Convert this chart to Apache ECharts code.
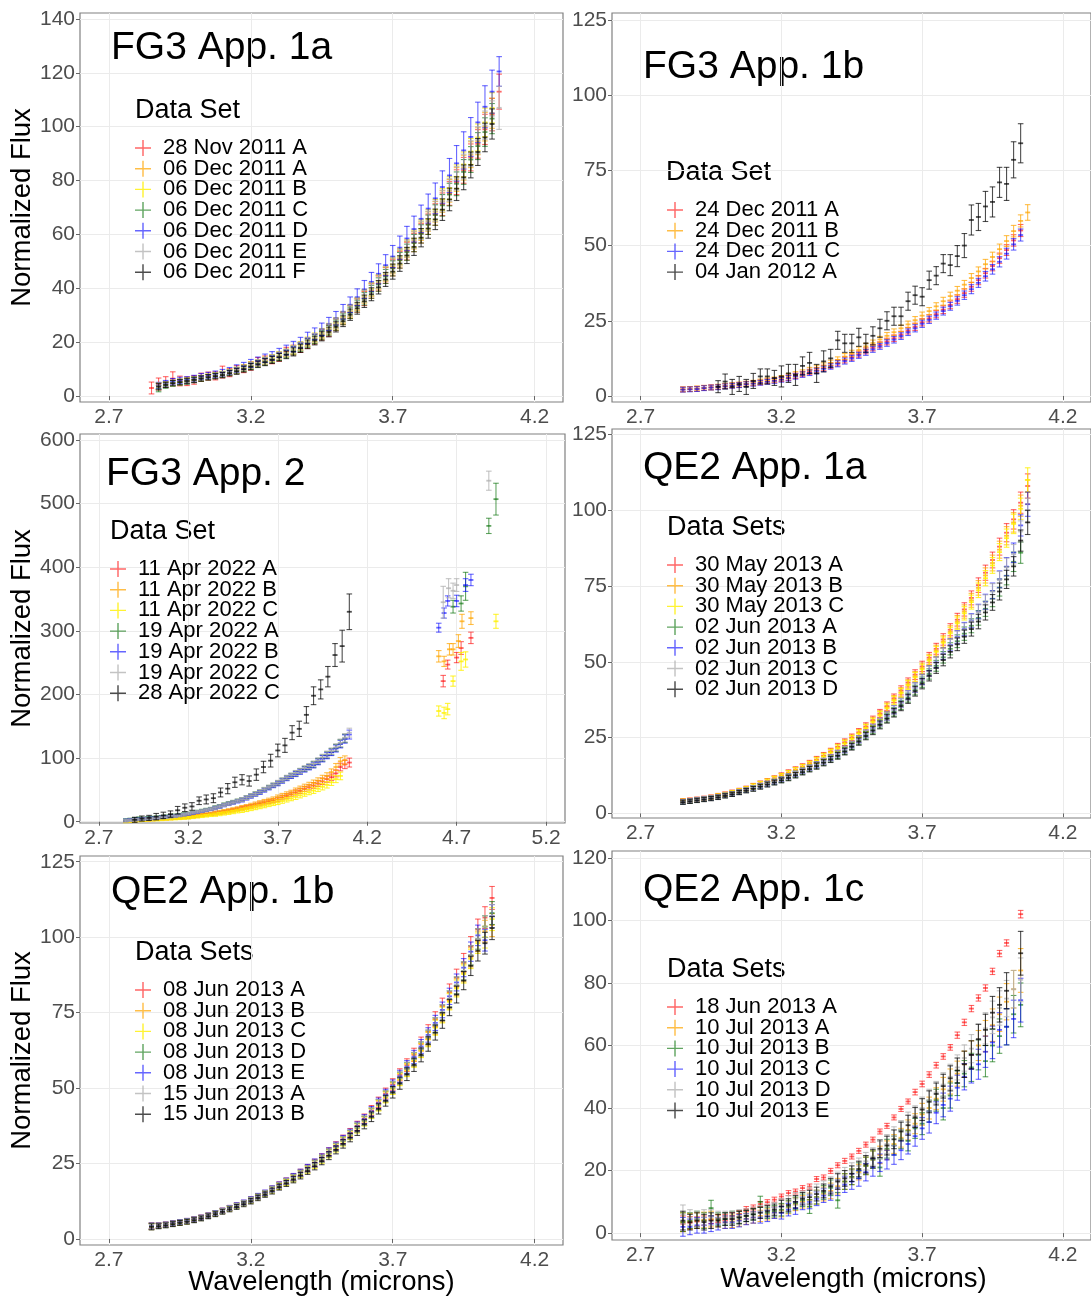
<!DOCTYPE html>
<html><head><meta charset="utf-8">
<script src="https://cdn.jsdelivr.net/npm/echarts@6/dist/echarts.min.js"></script>
<style>html,body{margin:0;padding:0;background:#fff}#c{width:1091px;height:1298px}</style>
</head><body><div id="c"></div>
<script>
// ---------- wavelength grids (microns) ----------
const W = [2.85,2.875,2.9,2.925,2.95,2.975,3.0,3.025,3.05,3.075,
 3.1,3.125,3.15,3.175,3.2,3.225,3.25,3.275,3.3,3.325,
 3.35,3.375,3.4,3.425,3.45,3.475,3.5,3.525,3.55,3.575,
 3.6,3.625,3.65,3.675,3.7,3.725,3.75,3.775,3.8,3.825,
 3.85,3.875,3.9,3.925,3.95,3.975,4.0,4.025,4.05,4.075,4.1];
const W_fg2_black = [2.90,2.94,2.98,3.02,3.06,3.10,3.14,3.18,3.22,3.26,3.30,3.34,3.38,3.42,3.46,3.50,3.54,3.58,3.62,3.66,3.70,3.74,3.78,3.82,3.86,3.90,3.94,3.98,4.02,4.06,4.10];

// ---------- FG3 App. 1a ----------
const fg1a_red = [3.0,4.5,5.2,6.5,5.6,5.5,6.0,7.0,7.4,7.5,8.9,8.7,9.8,10.2,11.2,12.7,13.3,13.6,14.6,16.4,17.1,18.0,19.6,21.2,22.8,24.3,26.5,28.8,31.2,33.6,36.2,39.0,41.8,44.8,47.6,50.6,53.8,57.0,60.4,63.8,67.4,71.2,75.2,79.4,83.8,88.6,93.6,99.0,104.5,113.0];
const fg1a_orange = [null,3.8,4.3,4.9,5.3,5.7,6.1,6.7,7.1,7.6,8.0,8.8,9.5,10.4,11.3,12.2,13.0,13.9,14.9,15.9,17.0,18.4,20.0,21.4,23.0,24.8,26.8,29.0,31.4,34.0,36.8,39.4,42.2,45.2,48.2,51.2,54.4,57.8,61.2,64.8,68.4,72.2,76.2,80.4,84.8,89.6,94.6,100.0,105.0];
const fg1a_yellow = [null,3.6,4.2,4.8,5.2,5.8,6.2,6.6,7.2,7.7,8.2,8.9,9.6,10.5,11.5,12.3,13.2,14.1,15.1,16.1,17.3,18.7,20.3,21.8,23.4,25.2,27.2,29.4,31.8,34.4,37.2,39.8,42.6,45.6,48.8,51.8,55.0,58.4,62.0,65.6,69.2,73.0,77.2,81.4,86.0,90.8,96.0,101.6,107.0];
const fg1a_green = [null,2.8,3.9,4.7,5.1,5.4,6.0,6.6,7.0,7.5,8.0,8.7,9.4,10.2,11.1,12.0,12.8,13.7,14.6,15.6,16.8,18.1,19.7,21.1,22.6,24.4,26.3,28.5,30.9,33.4,36.1,38.7,41.4,44.4,47.4,50.4,53.4,56.8,60.2,63.6,67.2,70.8,74.8,78.8,83.2,87.8,92.8,98.0,103.0];
const fg1a_blue = [null,3.9,4.6,5.3,5.8,6.0,6.5,7.2,7.6,8.1,8.6,9.3,10.2,11.1,12.1,13.0,14.0,14.9,16.0,17.1,18.4,19.8,21.6,23.1,24.8,26.8,28.9,31.3,33.9,36.7,39.6,42.4,45.4,48.6,51.8,55.1,58.5,62.0,65.8,69.6,73.4,77.6,81.9,86.4,91.2,96.2,101.6,107.4,113.0,120.5];
const fg1a_gray = [null,3.7,4.4,4.9,5.3,5.6,6.1,6.7,7.1,7.6,8.1,8.8,9.6,10.4,11.4,12.3,13.1,14.0,15.0,16.0,17.2,18.5,20.1,21.6,23.2,25.0,27.0,29.2,31.6,34.2,37.0,39.6,42.4,45.4,48.5,51.5,54.6,58.0,61.5,65.0,68.6,72.4,76.5,80.8,85.2,90.0,95.0,100.5,104.0,107.0];
const fg1a_black = [null,3.5,4.2,4.8,5.2,5.6,6.0,6.5,7.0,7.4,7.8,8.5,9.2,10.0,10.9,11.8,12.6,13.4,14.4,15.3,16.4,17.7,19.2,20.6,22.2,23.8,25.7,27.8,30.2,32.6,35.2,37.8,40.4,43.3,46.2,49.2,52.2,55.4,58.8,62.2,65.6,69.2,73.0,77.0,81.2,85.8,90.6,96.0,101.0];
const fg1a_err = [1.5,1.2,1.0,1.0,1.0,1.0,1.0,1.0,1.0,1.0,1.0,1.0,1.1,1.1,1.2,1.2,1.3,1.3,1.4,1.4,1.5,1.5,1.6,1.6,1.7,1.8,1.9,2.0,2.1,2.2,2.3,2.4,2.5,2.6,2.8,2.9,3.0,3.2,3.4,3.6,3.8,4.0,4.2,4.4,4.6,4.8,5.0,5.3,5.6,8.0];
const fg1a_errRed = [2.2,2.2,2.0,2.5,1.8,1.6,1.6,1.5,1.5,1.5,2.2,1.5,1.5,1.5,1.6,1.6,1.6,1.6,1.7,1.7,1.8,1.8,1.9,1.9,2.0,2.1,2.2,2.3,2.4,2.5,2.6,2.7,2.8,2.9,3.0,3.1,3.3,3.4,3.6,3.8,4.0,4.2,4.4,4.6,4.8,5.0,5.3,5.6,6.0,6.5];
const fg1a_errBlue = [1.5,1.2,1.2,1.2,1.2,1.2,1.2,1.2,1.2,1.2,1.3,1.3,1.4,1.4,1.5,1.5,1.6,1.6,1.7,1.8,1.9,2.0,2.1,2.2,2.3,2.4,2.5,2.7,2.9,3.1,3.3,3.5,3.7,3.9,4.1,4.3,4.5,4.8,5.1,5.4,5.7,6.0,6.3,6.6,6.9,7.2,7.5,7.8,8.0,5.5];

// ---------- FG3 App. 1b ----------
const fg1b_red = [2.2,2.3,2.4,2.7,2.9,3.0,3.3,3.5,3.7,4.0,4.2,4.5,4.9,5.2,5.6,6.1,6.7,7.3,8.0,8.6,9.3,10.1,11.0,12.0,12.9,13.9,15.0,16.0,17.0,18.1,19.2,20.4,21.7,23.0,24.5,25.8,27.2,28.7,30.3,32.2,34.2,36.3,38.5,40.8,43.2,45.8,48.5,51.7,55.0];
const fg1b_orange = [2.2,2.3,2.5,2.7,2.8,3.1,3.4,3.6,3.8,4.1,4.4,4.8,5.2,5.5,6.0,6.6,7.2,7.8,8.6,9.3,10.1,11.0,12.0,13.1,14.2,15.3,16.5,17.6,18.8,20.0,21.2,22.5,23.8,25.2,26.7,28.2,29.8,31.5,33.2,35.0,37.0,39.2,41.4,43.8,46.2,48.8,51.5,54.8,58.2,61.0];
const fg1b_blue = [2.1,2.2,2.3,2.6,2.8,2.9,3.2,3.4,3.6,3.9,4.1,4.4,4.7,5.0,5.4,5.9,6.5,7.1,7.7,8.3,9.0,9.8,10.7,11.6,12.5,13.5,14.5,15.5,16.5,17.6,18.7,19.9,21.2,22.5,24.0,25.3,26.7,28.2,29.8,31.6,33.5,35.5,37.6,39.8,42.1,44.6,47.3,50.4,53.5];
const fg1b_black = [null,null,null,null,null,3.1,4.8,3.0,4.0,3.0,5.0,6.5,6.5,6.0,6.5,7.5,7.0,10.0,11.0,7.5,11.5,12.5,18.5,17.5,17.5,19.5,17.5,20.0,22.5,25.0,26.5,26.5,31.5,33.5,33.0,38.5,40.0,44.0,43.5,46.5,50.0,58.5,59.5,63.0,64.5,71.0,70.5,78.5,84.0];
const fg1b_err = [0.8,0.8,0.8,0.8,0.8,0.8,0.8,0.8,0.8,0.8,0.8,0.8,0.8,0.8,0.8,0.9,0.9,0.9,0.9,0.9,0.9,0.9,1.0,1.0,1.0,1.0,1.0,1.0,1.0,1.1,1.1,1.1,1.1,1.2,1.2,1.2,1.2,1.3,1.3,1.4,1.4,1.5,1.5,1.6,1.6,1.7,1.8,1.9,2.0,2.6];
const fg1b_errBlack = [2.0,2.0,2.0,2.0,2.0,2.0,2.5,2.5,2.5,2.5,2.5,2.5,2.5,2.5,3.5,3.0,3.5,3.0,3.5,3.0,3.5,3.0,3.0,3.0,3.0,3.0,3.0,3.0,3.0,3.0,3.0,3.0,3.0,3.0,3.0,3.0,3.0,3.0,3.5,3.5,4.0,5.0,4.5,5.0,5.0,5.0,5.5,6.0,6.5];

// ---------- FG3 App. 2 ----------
const fg2_red = [1.0,1.5,2.0,2.5,3.0,3.3,3.6,4.0,4.4,4.8,5.2,5.6,6.0,6.5,7.0,8.0,9.0,10.0,11.0,12.0,13.0,14.0,15.0,16.5,18.0,19.5,21.0,22.5,24.0,26.0,28.0,29.5,31.5,33.0,35.0,38.0,40.5,43.0,46.0,48.5,51.5,54.0,57.0,60.0,63.5,67.0,70.0,76.0,86.0,90.0,93.0];
const fg2_orange = [1.5,2.0,2.5,3.0,3.5,3.8,4.2,4.6,5.0,5.4,5.8,6.3,6.8,7.4,8.0,9.0,10.0,11.0,12.0,13.0,14.2,15.4,16.6,18.0,19.5,21.0,22.5,24.0,26.0,28.0,30.0,32.0,34.0,36.0,38.5,41.0,43.5,46.0,49.0,52.0,55.0,58.0,61.0,64.5,68.0,72.0,78.0,86.0,95.0,97.0];
const fg2_yellow = [0.5,1.0,1.5,2.0,2.5,2.8,3.1,3.4,3.8,4.2,4.6,5.0,5.4,5.8,6.2,7.0,7.8,8.6,9.4,10.2,11.0,12.0,13.0,14.0,15.2,16.4,17.6,19.0,20.5,22.0,23.5,25.0,26.8,28.5,30.5,32.5,34.5,36.5,39.0,41.5,44.0,46.5,49.0,52.0,55.0,58.0,62.0,67.0,72.0];
const fg2_green = [2.5,3.5,4.5,5.5,5.0,6.0,6.5,7.0,7.5,8.5,9.0,10.0,11.0,12.0,13.0,14.5,16.0,17.5,19.0,20.5,22.5,24.5,27.0,29.0,31.0,33.0,35.0,38.0,41.0,44.0,47.0,50.5,54.0,57.5,61.0,65.0,69.0,72.5,76.0,79.5,83.0,86.5,90.0,95.0,100.0,105.0,110.0,116.0,123.0,131.0];
const fg2_blue = [2.0,3.0,3.5,4.0,4.5,5.0,5.5,6.0,7.0,7.5,8.5,9.0,10.0,11.0,12.0,13.5,15.0,16.5,18.0,19.5,21.5,23.5,26.0,28.0,30.0,32.0,34.0,37.0,40.0,43.0,46.0,49.5,53.0,56.5,60.0,64.0,68.0,71.5,75.0,78.5,82.0,85.5,89.0,94.0,99.0,104.0,109.0,115.0,122.0,130.0,137.0];
const fg2_gray = [1.5,2.5,3.0,3.5,4.0,4.5,5.0,6.0,6.5,7.0,8.0,9.0,10.0,11.0,12.5,14.0,15.5,17.0,18.5,20.0,22.0,24.0,26.5,28.5,30.5,33.0,35.0,38.0,41.0,44.0,47.5,51.0,54.5,58.0,61.5,65.5,69.5,73.0,76.5,80.0,84.0,87.5,91.0,96.0,101.0,106.0,111.0,117.0,124.0,132.0,140.0];
const fg2_black = [3,5,6,8,10,12,18,22,24,33,35,37,46,52,62,66,64,74,86,96,112,120,140,146,168,198,208,228,262,276,330];
const fg2_err = [2,2,2,2,2,2,2,2,2,2,2,2,2,2,2,2,2,2,2,2,2.5,2.5,2.5,2.5,2.5,2.5,3,3,3,3,3,3,3,3,3.5,3.5,3.5,3.5,4,4,4,4,4.5,4.5,5,5,5,5.5,6,6.5,7];
const fg2_errBlack = [4,4,4,5,5,5,6,6,6,6,7,7,7,8,8,8,8,9,9,10,10,11,11,12,13,14,15,16,18,25,28];
// long-wavelength points (4.6 - 4.9 microns)
const fg2x_red_w = [4.625,4.65,4.70,4.725,4.78];
const fg2x_red_v = [221,247,258,273,289];
const fg2x_red_e = [9,7,8,10,9];
const fg2x_orange_w = [4.60,4.63,4.66,4.68,4.71,4.73,4.78];
const fg2x_orange_v = [260,252,271,271,284,315,320];
const fg2x_orange_e = [9,8,9,9,10,11,10];
const fg2x_yellow_w = [4.60,4.63,4.65,4.68,4.725,4.75,4.92];
const fg2x_yellow_v = [174,171,177,221,252,255,315];
const fg2x_yellow_e = [8,9,9,8,14,12,11];
const fg2x_green_w = [4.68,4.725,4.75,4.88,4.92];
const fg2x_green_v = [338,343,370,465,507];
const fg2x_green_e = [10,12,22,12,25];
const fg2x_blue_w = [4.60,4.63,4.65,4.70,4.75,4.78];
const fg2x_blue_v = [305,328,347,347,372,380];
const fg2x_blue_e = [7,8,8,9,10,9];
const fg2x_gray_w = [4.625,4.655,4.68,4.70,4.88];
const fg2x_gray_v = [345,367,363,372,536];
const fg2x_gray_e = [25,15,12,10,15];

// ---------- QE2 App. 1a ----------
const qe1a_red = [4.2,4.4,4.7,5.0,5.4,5.9,6.4,7.0,7.6,8.3,9.1,9.9,10.7,11.6,12.6,13.5,14.5,15.5,16.6,17.8,19.1,20.5,22.0,23.5,25.1,26.8,28.7,30.8,33.0,35.4,38.0,40.6,43.2,45.8,48.5,51.4,54.3,57.4,60.6,63.9,67.3,71.1,75.3,79.4,83.6,88.0,92.6,97.0,102.5,108.0];
const qe1a_orange = [4.1,4.3,4.6,4.9,5.3,5.8,6.3,6.9,7.5,8.2,9.0,9.8,10.6,11.5,12.4,13.3,14.3,15.3,16.4,17.6,18.9,20.3,21.7,23.2,24.8,26.5,28.3,30.4,32.6,35.0,37.5,40.0,42.6,45.2,47.9,50.8,53.7,56.7,59.9,63.2,66.6,70.3,74.4,78.5,82.6,87.0,91.6,96.0,101.5,106.0];
const qe1a_yellow = [4.0,4.2,4.5,4.8,5.2,5.7,6.2,6.8,7.4,8.1,8.9,9.7,10.5,11.4,12.3,13.2,14.2,15.2,16.2,17.4,18.7,20.1,21.5,23.0,24.6,26.3,28.1,30.1,32.3,34.7,37.2,39.7,42.3,44.9,47.5,50.4,53.3,56.3,59.4,62.7,66.0,69.7,73.6,77.6,81.8,86.2,90.8,95.5,100.5,110.0];
const qe1a_green = [3.8,4.1,4.4,4.7,5.0,5.4,5.9,6.4,7.0,7.6,8.3,9.0,9.7,10.3,11.0,11.9,12.8,13.8,14.8,15.8,16.9,18.0,19.2,20.6,22.2,24.0,25.8,27.6,29.5,31.5,33.5,35.8,38.2,40.7,43.3,46.0,48.7,51.5,54.3,56.8,59.3,61.9,64.5,67.5,70.8,74.5,78.4,83.0,86.0];
const qe1a_blue = [3.9,4.2,4.5,4.8,5.1,5.5,6.0,6.5,7.1,7.7,8.4,9.1,9.8,10.5,11.3,12.2,13.1,14.1,15.1,16.1,17.2,18.4,19.7,21.1,22.7,24.5,26.3,28.1,30.1,32.1,34.2,36.5,39.0,41.5,44.2,47.0,49.8,52.7,55.6,58.2,60.8,63.6,66.6,69.8,73.4,77.2,81.4,86.0,95.0,102.0];
const qe1a_gray = [3.9,4.2,4.5,4.8,5.1,5.5,6.0,6.5,7.1,7.7,8.4,9.1,9.8,10.5,11.2,12.1,13.0,14.0,15.0,16.0,17.1,18.3,19.6,21.0,22.6,24.4,26.2,28.0,30.0,32.0,34.1,36.4,38.9,41.4,44.0,46.8,49.6,52.5,55.4,58.0,60.6,63.4,66.4,69.6,73.2,77.0,81.2,85.5,93.0,100.0];
const qe1a_black = [3.7,4.0,4.3,4.6,4.9,5.3,5.8,6.3,6.9,7.5,8.1,8.8,9.5,10.2,10.9,11.7,12.6,13.6,14.6,15.6,16.7,17.8,19.0,20.4,22.0,23.7,25.5,27.3,29.2,31.2,33.2,35.4,37.8,40.3,42.8,45.4,48.0,50.6,53.3,55.8,58.3,60.8,63.3,66.3,69.6,73.2,77.2,81.5,90.0,96.0];
const qe1a_err = [0.7,0.7,0.7,0.7,0.7,0.7,0.7,0.7,0.7,0.7,0.8,0.8,0.8,0.8,0.8,0.9,0.9,0.9,0.9,1.0,1.0,1.0,1.1,1.1,1.1,1.2,1.2,1.3,1.3,1.4,1.4,1.5,1.5,1.6,1.7,1.7,1.8,1.9,2.0,2.1,2.2,2.3,2.4,2.5,2.6,2.8,3.0,3.2,3.5,4.0];

// ---------- QE2 App. 1b ----------
const qe1b_red = [4.3,4.5,4.8,5.2,5.6,6.0,6.5,7.1,7.8,8.6,9.4,10.3,11.1,12.0,13.0,14.1,15.2,16.5,17.9,19.2,20.5,22.0,23.5,25.2,27.0,28.9,30.9,33.0,35.2,37.5,39.9,42.6,45.3,48.2,51.2,54.4,57.6,61.0,64.6,68.6,72.8,77.2,81.8,86.6,91.6,97.0,102.6,106.5,113.0];
const qe1b_orange = [4.2,4.4,4.7,5.1,5.5,5.9,6.4,7.0,7.7,8.5,9.3,10.2,11.0,11.9,12.9,14.0,15.1,16.4,17.6,18.9,20.2,21.6,23.1,24.8,26.5,28.4,30.3,32.4,34.5,36.8,39.1,41.7,44.3,47.1,50.0,53.0,56.1,59.3,62.6,66.4,70.3,74.5,78.9,83.4,88.2,93.3,98.6,102.0,104.0];
const qe1b_yellow = [4.1,4.3,4.6,5.0,5.4,5.8,6.3,6.9,7.6,8.4,9.2,10.1,10.9,11.8,12.8,13.9,15.0,16.2,17.4,18.7,20.0,21.4,22.9,24.6,26.3,28.2,30.1,32.2,34.3,36.6,38.9,41.5,44.1,46.9,49.8,52.8,55.9,59.1,62.4,66.1,70.0,74.2,78.6,83.0,87.8,92.8,98.0,100.0,106.0];
const qe1b_green = [4.2,4.4,4.7,5.1,5.5,5.9,6.4,7.0,7.7,8.5,9.3,10.2,11.0,11.9,12.9,14.0,15.1,16.4,17.7,19.0,20.3,21.7,23.2,24.9,26.6,28.5,30.4,32.5,34.6,36.9,39.2,41.8,44.5,47.3,50.2,53.3,56.4,59.6,63.0,66.8,70.8,75.0,79.5,84.0,88.8,94.0,99.4,103.5,108.0];
const qe1b_blue = [4.3,4.5,4.8,5.2,5.6,6.0,6.5,7.1,7.8,8.6,9.4,10.3,11.2,12.1,13.1,14.2,15.3,16.6,17.9,19.2,20.6,22.0,23.6,25.3,27.0,28.9,30.8,32.9,35.0,37.3,39.7,42.3,45.0,47.8,50.8,53.9,57.0,60.3,63.8,67.6,71.6,75.9,80.4,85.0,89.9,95.2,100.6,99.0,107.0];
const qe1b_gray = [4.2,4.4,4.7,5.1,5.5,5.9,6.4,7.0,7.7,8.5,9.3,10.2,11.0,11.9,12.9,14.0,15.1,16.4,17.7,19.0,20.3,21.7,23.2,24.9,26.6,28.5,30.4,32.5,34.6,36.9,39.2,41.8,44.5,47.3,50.2,53.3,56.4,59.6,63.0,66.8,70.8,75.0,79.5,84.0,88.8,94.0,99.4,103.5,107.0];
const qe1b_black = [4.0,4.2,4.5,4.9,5.3,5.7,6.2,6.8,7.5,8.2,9.0,9.8,10.6,11.5,12.5,13.6,14.7,15.9,17.2,18.4,19.7,21.0,22.5,24.1,25.8,27.6,29.5,31.5,33.6,35.8,38.0,40.5,43.1,45.8,48.6,51.6,54.6,57.7,61.0,64.6,68.4,72.4,76.7,81.0,85.6,90.5,95.5,98.0,103.0];
const qe1b_err = [1.0,0.8,0.8,0.8,0.8,0.8,0.8,0.8,0.8,0.8,0.8,0.8,0.8,0.8,0.9,0.9,0.9,1.0,1.0,1.0,1.1,1.1,1.1,1.2,1.2,1.3,1.3,1.4,1.4,1.5,1.5,1.6,1.7,1.8,1.9,2.0,2.1,2.2,2.3,2.4,2.5,2.6,2.7,2.8,3.0,3.2,3.4,3.6,3.8];

// ---------- QE2 App. 1c ----------
const qe1c_red = [3.0,3.3,3.7,4.0,4.3,4.6,5.0,5.5,6.2,7.7,8.2,9.3,9.9,10.7,11.7,12.8,13.3,14.4,14.9,17.3,17.8,19.9,21.7,23.1,24.5,26.3,28.3,29.9,32.5,34.3,37.0,39.7,42.1,45.1,47.7,50.7,53.7,56.5,59.4,63.3,67.4,71.8,75.2,78.4,83.7,89.4,92.8,null,102.0];
const qe1c_orange = [3.5,3.8,4.0,4.2,4.5,4.0,3.5,3.8,4.2,4.6,5.0,5.5,6.0,6.6,7.2,8.2,9.2,10.0,10.6,11.5,12.5,13.5,15.0,16.5,18.0,19.5,21.5,23.5,25.0,26.5,28.5,30.5,33.0,35.0,38.0,40.0,43.0,46.0,48.5,51.0,54.0,57.0,60.0,63.0,66.5,70.0,74.0,78.0,84.0];
const qe1c_green = [3.5,4.0,4.5,4.0,8.0,4.5,4.5,5.0,5.0,5.5,6.0,10.0,6.5,7.0,7.5,8.5,9.5,10.5,8.5,11.5,13.0,14.5,10.5,16.5,18.0,20.0,21.5,23.5,21.0,27.0,28.0,30.0,29.5,33.5,35.0,39.0,42.5,40.0,44.0,48.0,51.0,53.0,57.0,55.0,60.0,63.0,66.0,70.0,73.0];
const qe1c_blue = [2.0,2.0,2.5,2.5,3.0,3.0,3.5,3.5,4.0,4.5,5.0,5.0,5.5,6.5,6.5,7.5,8.0,9.5,10.0,11.0,12.0,13.0,14.5,15.5,16.5,17.5,19.5,21.0,22.5,23.5,25.0,26.5,28.5,31.0,33.5,35.5,38.5,41.0,43.0,46.5,50.0,52.5,54.0,58.0,61.0,65.0,66.0,68.5,74.5];
const qe1c_gray = [6.0,5.0,4.5,5.0,5.0,5.0,5.0,5.0,5.5,6.0,6.5,7.0,7.5,8.0,9.0,10.0,11.0,11.5,12.5,13.5,14.5,15.5,17.0,18.5,20.0,21.5,23.0,24.5,26.5,28.5,31.0,33.0,35.5,37.5,40.0,42.5,45.0,47.5,50.0,53.0,56.0,59.0,62.0,65.5,69.0,72.0,75.0,78.0,81.0];
const qe1c_black = [4.0,3.5,4.0,3.5,4.0,4.0,4.5,4.5,5.0,5.5,6.0,6.5,7.0,7.5,8.5,9.0,10.0,11.0,11.5,12.5,13.5,15.0,16.5,17.5,19.0,20.5,22.0,24.0,27.0,28.0,30.0,32.5,34.5,37.0,39.5,42.0,44.5,47.0,49.5,52.0,54.0,57.0,62.0,65.0,70.5,73.0,77.5,null,89.5];
const qe1c_err = [3.0,2.5,2.5,2.5,2.5,2.0,2.0,2.0,2.0,1.8,1.8,1.8,1.8,1.8,2.0,2.0,2.0,2.0,2.2,2.2,2.2,2.5,2.5,2.5,2.5,2.5,2.8,2.8,2.8,3.0,3.0,3.0,3.2,3.2,3.5,3.5,3.5,3.8,4.0,4.0,4.2,4.5,4.8,5.0,5.2,5.5,5.8,6.0,7.0];
const qe1c_errRed = [2.5,2.0,1.5,1.5,1.2,1.2,1.0,1.0,1.0,0.8,0.8,0.8,0.8,0.8,0.8,0.8,0.8,0.8,0.8,0.8,0.8,0.8,0.8,0.8,0.8,0.8,0.8,0.8,0.8,0.8,0.8,0.8,0.8,0.9,0.9,0.9,0.9,0.9,0.9,1.0,1.0,1.0,1.0,1.0,1.0,1.0,1.0,1.0,1.2];

// ---------- axis ticks / titles ----------
const xTicks = [2.7,3.2,3.7,4.2];
const xTicksWide = [2.7,3.2,3.7,4.2,4.7,5.2];
const yTicks = [[0,20,40,60,80,100,120,140],[0,25,50,75,100,125],[0,100,200,300,400,500,600],[0,25,50,75,100,125],[0,25,50,75,100,125],[0,20,40,60,80,100,120]];
const panelTitles = ['FG3 App. 1a','FG3 App. 1b','FG3 App. 2','QE2 App. 1a','QE2 App. 1b','QE2 App. 1c'];
const legendTitles = ['Data Set','Data Set','Data Set','Data Sets','Data Sets','Data Sets'];

// ---------- styling ----------
const FONT = 'Liberation Sans, Arial, sans-serif';
const COL = {
  red:'rgba(255,0,0,0.6)', orange:'rgba(255,165,0,0.72)', yellow:'rgba(255,240,0,0.8)',
  green:'rgba(0,110,0,0.62)', blue:'rgba(0,0,255,0.6)', gray:'rgba(175,175,175,0.75)', black:'rgba(0,0,0,0.7)'
};
const GRIDS = [
  {left:80, top:13, width:483, height:389},
  {left:612, top:13, width:483, height:389},
  {left:80, top:434, width:485, height:389},
  {left:612, top:429, width:483, height:389},
  {left:80, top:856, width:483, height:389},
  {left:612, top:851, width:483, height:389}
];
const XR = [[2.598,4.30],[2.598,4.30],[2.594,5.306],[2.598,4.30],[2.598,4.30],[2.598,4.30]];
const YR = [[-2.2,142.2],[-2,127.3],[-2,609.4],[-1.5,126.8],[-2,126.9],[-2.2,122.2]];
const TITLE_POS = [[111,48],[643,67],[106,474],[643,468],[111,892],[643,890]];
const LTITLE_POS = [[135,111],[666,173],[110,532],[667,528],[135,953],[667,970]];
const LEGEND_POS = [[135,137],[667,199],[110,558],[667,554],[135,979],[667,996]];

function pts(wl, vals, errs){
  const out = [];
  for (let i = 0; i < vals.length; i++) if (vals[i] != null) out.push([wl[i], vals[i], errs[i]]);
  return out;
}

// [name, colour, data]
const PANELS = [
  [
    ['28 Nov 2011 A','red',pts(W,fg1a_red,fg1a_errRed)],
    ['06 Dec 2011 A','orange',pts(W,fg1a_orange,fg1a_err)],
    ['06 Dec 2011 B','yellow',pts(W,fg1a_yellow,fg1a_err)],
    ['06 Dec 2011 C','green',pts(W,fg1a_green,fg1a_err)],
    ['06 Dec 2011 D','blue',pts(W,fg1a_blue,fg1a_errBlue)],
    ['06 Dec 2011 E','gray',pts(W,fg1a_gray,fg1a_err)],
    ['06 Dec 2011 F','black',pts(W,fg1a_black,fg1a_err)]
  ],
  [
    ['24 Dec 2011 A','red',pts(W,fg1b_red,fg1b_err)],
    ['24 Dec 2011 B','orange',pts(W,fg1b_orange,fg1b_err)],
    ['24 Dec 2011 C','blue',pts(W,fg1b_blue,fg1b_err)],
    ['04 Jan 2012 A','black',pts(W,fg1b_black,fg1b_errBlack)]
  ],
  [
    ['11 Apr 2022 A','red',pts(W,fg2_red,fg2_err).concat(pts(fg2x_red_w,fg2x_red_v,fg2x_red_e))],
    ['11 Apr 2022 B','orange',pts(W,fg2_orange,fg2_err).concat(pts(fg2x_orange_w,fg2x_orange_v,fg2x_orange_e))],
    ['11 Apr 2022 C','yellow',pts(W,fg2_yellow,fg2_err).concat(pts(fg2x_yellow_w,fg2x_yellow_v,fg2x_yellow_e))],
    ['19 Apr 2022 A','green',pts(W,fg2_green,fg2_err).concat(pts(fg2x_green_w,fg2x_green_v,fg2x_green_e))],
    ['19 Apr 2022 B','blue',pts(W,fg2_blue,fg2_err).concat(pts(fg2x_blue_w,fg2x_blue_v,fg2x_blue_e))],
    ['19 Apr 2022 C','gray',pts(W,fg2_gray,fg2_err).concat(pts(fg2x_gray_w,fg2x_gray_v,fg2x_gray_e))],
    ['28 Apr 2022 C','black',pts(W_fg2_black,fg2_black,fg2_errBlack)]
  ],
  [
    ['30 May 2013 A','red',pts(W,qe1a_red,qe1a_err)],
    ['30 May 2013 B','orange',pts(W,qe1a_orange,qe1a_err)],
    ['30 May 2013 C','yellow',pts(W,qe1a_yellow,qe1a_err)],
    ['02 Jun 2013 A','green',pts(W,qe1a_green,qe1a_err)],
    ['02 Jun 2013 B','blue',pts(W,qe1a_blue,qe1a_err)],
    ['02 Jun 2013 C','gray',pts(W,qe1a_gray,qe1a_err)],
    ['02 Jun 2013 D','black',pts(W,qe1a_black,qe1a_err)]
  ],
  [
    ['08 Jun 2013 A','red',pts(W,qe1b_red,qe1b_err)],
    ['08 Jun 2013 B','orange',pts(W,qe1b_orange,qe1b_err)],
    ['08 Jun 2013 C','yellow',pts(W,qe1b_yellow,qe1b_err)],
    ['08 Jun 2013 D','green',pts(W,qe1b_green,qe1b_err)],
    ['08 Jun 2013 E','blue',pts(W,qe1b_blue,qe1b_err)],
    ['15 Jun 2013 A','gray',pts(W,qe1b_gray,qe1b_err)],
    ['15 Jun 2013 B','black',pts(W,qe1b_black,qe1b_err)]
  ],
  [
    ['18 Jun 2013 A','red',pts(W,qe1c_red,qe1c_errRed)],
    ['10 Jul 2013 A','orange',pts(W,qe1c_orange,qe1c_err)],
    ['10 Jul 2013 B','green',pts(W,qe1c_green,qe1c_err)],
    ['10 Jul 2013 C','blue',pts(W,qe1c_blue,qe1c_err)],
    ['10 Jul 2013 D','gray',pts(W,qe1c_gray,qe1c_err)],
    ['10 Jul 2013 E','black',pts(W,qe1c_black,qe1c_err)]
  ]
];

function mkRender(color){
  return function(params, api){
    const x = api.value(0), y = api.value(1), e = api.value(2);
    const c = api.coord([x, y]), t = api.coord([x, y + e]), b = api.coord([x, y - e]);
    const s = {stroke: color, lineWidth: 1.1, fill: null};
    const cap = 2.8, h = 2.5;
    return {type:'group', children:[
      {type:'line', shape:{x1:c[0], y1:t[1], x2:c[0], y2:b[1]}, style:s},
      {type:'line', shape:{x1:c[0]-cap, y1:t[1], x2:c[0]+cap, y2:t[1]}, style:s},
      {type:'line', shape:{x1:c[0]-cap, y1:b[1], x2:c[0]+cap, y2:b[1]}, style:s},
      {type:'line', shape:{x1:c[0]-h, y1:c[1], x2:c[0]+h, y2:c[1]}, style:{stroke:color, lineWidth:1.8, fill:null}}
    ]};
  };
}

const PLUS = 'path://M4.55,0H5.45V4.55H10V5.45H5.45V10H4.55V5.45H0V4.55H4.55Z';

const grid = [], xAxis = [], yAxis = [], series = [], legend = [], graphic = [];
GRIDS.forEach((g, i) => {
  grid.push(Object.assign({show:true, borderColor:'#808080', borderWidth:1.2, backgroundColor:'transparent', containLabel:false}, g));
  const xt = (i === 2) ? xTicksWide : xTicks;
  xAxis.push({
    type:'value', gridIndex:i, min:XR[i][0], max:XR[i][1],
    axisLine:{show:false},
    axisTick:{show:true, length:4, lineStyle:{color:'#666', width:1}, customValues:xt},
    axisLabel:{customValues:xt, formatter:v => v.toFixed(1), color:'#4d4d4d', fontSize:21, fontFamily:FONT, margin:5},
    splitLine:{show:true, lineStyle:{color:'#ebebeb', width:1}}
  });
  yAxis.push({
    type:'value', gridIndex:i, min:YR[i][0], max:YR[i][1],
    axisLine:{show:false},
    axisTick:{show:true, length:4, lineStyle:{color:'#666', width:1}, customValues:yTicks[i]},
    axisLabel:{customValues:yTicks[i], color:'#4d4d4d', fontSize:21, fontFamily:FONT, margin:5},
    splitLine:{show:true, lineStyle:{color:'#ebebeb', width:1}}
  });
  const names = [];
  PANELS[i].forEach(([name, col, data]) => {
    names.push(name);
    series.push({
      type:'custom', name, xAxisIndex:i, yAxisIndex:i, data,
      encode:{x:0, y:1}, renderItem:mkRender(COL[col]),
      itemStyle:{color:COL[col]}, silent:true, animation:false
    });
  });
  legend.push({
    data:names, orient:'vertical', left:LEGEND_POS[i][0], top:LEGEND_POS[i][1],
    itemWidth:30, itemHeight:16, itemGap:-1.3, icon:PLUS, selectedMode:false, padding:0,
    textStyle:{fontSize:22, fontFamily:FONT, color:'#000'}
  });
  graphic.push({type:'text', x:TITLE_POS[i][0], y:TITLE_POS[i][1], silent:true,
    style:{text:panelTitles[i], fontSize:39, fontFamily:FONT, fill:'#000', textAlign:'left', textVerticalAlign:'middle'}});
  graphic.push({type:'text', x:LTITLE_POS[i][0], y:LTITLE_POS[i][1], silent:true,
    style:{text:legendTitles[i], fontSize:27, fontFamily:FONT, fill:'#000', textAlign:'left', textVerticalAlign:'middle'}});
});
// axis titles
[[22,207.5],[22,628.5],[22,1050.5]].forEach(p => graphic.push({type:'text', x:p[0], y:p[1], rotation:Math.PI/2, silent:true,
  style:{text:'Normalized Flux', fontSize:27.5, fontFamily:FONT, fill:'#000', textAlign:'center', textVerticalAlign:'middle'}}));
[[321.5,1282],[853.5,1279]].forEach(p => graphic.push({type:'text', x:p[0], y:p[1], silent:true,
  style:{text:'Wavelength (microns)', fontSize:27.5, fontFamily:FONT, fill:'#000', textAlign:'center', textVerticalAlign:'middle'}}));

const chart = echarts.init(document.getElementById('c'), null, {renderer:'canvas'});
chart.setOption({animation:false, backgroundColor:'#fff', grid, xAxis, yAxis, series, legend, graphic});
</script></body></html>
